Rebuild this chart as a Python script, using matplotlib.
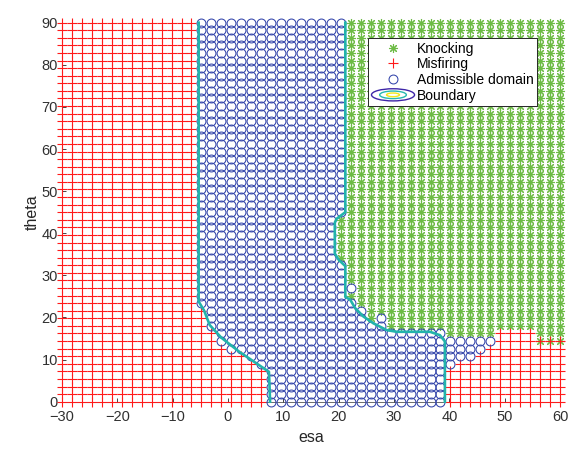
import numpy as np
import matplotlib
matplotlib.use("Agg")
import matplotlib.pyplot as plt
from matplotlib.patches import Ellipse
from matplotlib.lines import Line2D
from matplotlib.legend_handler import HandlerBase

plt.rcParams['font.family'] = ['Liberation Sans', 'DejaVu Sans']

# operating grid
esa = np.linspace(-30, 60, 51)
theta = np.linspace(0, 90, 51)

# admissible span per theta row (first / last esa of the domain), bottom row first
adm_lo = [7.8, 7.8, 7.8, 7.8, 7.8, 6.0, 4.2, 0.6, -1.2, -1.2,
          -3.0, -3.0, -3.0] + [-4.8] * 38
adm_hi = [38.4, 38.4, 38.4, 38.4, 38.4, 40.2, 43.8, 45.6, 47.4, 38.4,
          27.6, 27.6, 24.0, 22.2, 20.4, 22.2, 20.4, 20.4, 20.4,
          18.6, 18.6, 18.6, 18.6, 18.6, 18.6] + [20.4] * 26

# right of the domain: misfiring below this theta, knocking above
split_theta = 15.5

# cells that break the pattern (esa, theta)
misfire_extra = [(49.2, 16.2), (51.0, 16.2), (52.8, 16.2), (54.6, 16.2)]
knock_extra = [(25.8, 19.8), (56.4, 14.4), (58.2, 14.4), (60.0, 14.4)]

# fitted decision boundary
left_esa = [7.6, 7.5, 7.4, 2.0, -1.2, -3.3, -4.3, -5.3, -5.3]
left_theta = [0, 4.0, 7.1, 11.9, 15.2, 18.2, 21.6, 23.8, 90]
right_esa = [21.2, 21.2, 19.6, 19.3, 19.3, 20.0, 21.2, 21.2, 22.1, 23.0,
             24.5, 26.3, 28.7, 30.5, 36.5, 38.3, 39.2, 39.2, 39.2]
right_theta = [90, 45.0, 43.4, 42.5, 35.2, 33.7, 32.2, 24.9, 24.2, 22.2,
               20.2, 18.6, 17.0, 16.6, 16.6, 15.8, 14.3, 10.0, 0]

ring_colors = ['#3e26a8', '#27b8b0', '#f2e81c']
line_color = '#22b3ab'

E, T = np.meshgrid(esa, theta)
lo = np.array(adm_lo)[:, None]
hi = np.array(adm_hi)[:, None]
eps = 1e-6
adm = (E >= lo - eps) & (E <= hi + eps)
mis = (E < lo - eps) | ((E > hi + eps) & (T < split_theta))
knock = (E > hi + eps) & (T > split_theta)
for e, t in misfire_extra:
    cell = np.isclose(E, e) & np.isclose(T, t)
    mis |= cell
    knock &= ~cell
for e, t in knock_extra:
    cell = np.isclose(E, e) & np.isclose(T, t)
    knock |= cell
    adm &= ~cell


class HandlerRings(HandlerBase):
    def create_artists(self, legend, orig_handle, xdescent, ydescent,
                       width, height, fontsize, trans):
        cx = 0.5 * width - xdescent
        cy = 0.5 * height - ydescent
        arts = []
        for f, c in zip([1.0, 0.62, 0.3], ring_colors):
            el = Ellipse((cx, cy), width * f, height * 1.25 * f,
                         facecolor='none', edgecolor=c, lw=1.0,
                         transform=trans)
            arts.append(el)
        return arts


fig = plt.figure(figsize=(5.82, 4.5), dpi=100)
ax = fig.add_axes([0.1065, 0.1073, 0.8557, 0.8423])

ax.plot(E[knock], T[knock], ls='none', marker=(8, 2, 0), ms=6.5, mew=0.8,
        color='#6dbb45', clip_on=False, label='Knocking')
ax.plot(E[mis], T[mis], ls='none', marker='+', ms=7.6, mew=0.8,
        color='#ff1a1a', clip_on=False, label='Misfiring')
ax.plot(E[adm], T[adm], ls='none', marker='o', ms=6.4, mew=0.75,
        mfc='none', color='#3344aa', clip_on=False, label='Admissible domain')
ax.plot(left_esa, left_theta, color=line_color, lw=1.9, clip_on=False)
ax.plot(right_esa, right_theta, color=line_color, lw=1.9, clip_on=False)

ax.set_xlim(-30, 60)
ax.set_ylim(0, 90)
ax.set_xticks(np.arange(-30, 61, 10))
ax.set_yticks(np.arange(0, 91, 10))
for s in ['top', 'right']:
    ax.spines[s].set_visible(False)
for s in ['left', 'bottom']:
    ax.spines[s].set_color('#555555')
    ax.spines[s].set_linewidth(0.6)
    ax.spines[s].set_zorder(0)
ax.tick_params(direction='in', length=3, width=0.6, color='#262626',
               labelcolor='#303030', labelsize=10.5)
ax.tick_params(axis='x', pad=6)
ax.tick_params(axis='y', pad=3)
ax.set_xlabel('esa', fontsize=11.5, color='#262626', labelpad=4)
ax.set_ylabel('theta', fontsize=11.5, color='#262626', labelpad=1)

ring = Line2D([], [], color=line_color)
handles, labels = ax.get_legend_handles_labels()
handles.append(ring)
labels.append('Boundary')
leg = ax.legend(handles, labels, loc='upper left',
                bbox_to_anchor=(0.6145, 0.959), borderaxespad=0,
                handler_map={ring: HandlerRings()}, fontsize=10,
                handlelength=3.1, handletextpad=0.15, labelspacing=0.12,
                borderpad=0.25, fancybox=False, framealpha=1,
                edgecolor='#262626')
leg.get_frame().set_linewidth(0.7)

fig.savefig('out.png', dpi=100)
